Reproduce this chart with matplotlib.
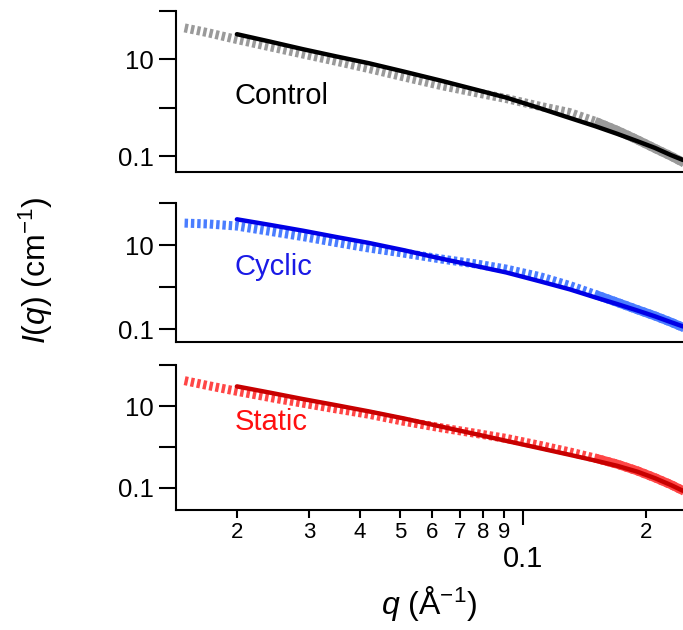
import numpy as np
import matplotlib
matplotlib.use("Agg")
import matplotlib.pyplot as plt

plt.rcParams['font.family'] = ['Liberation Sans', 'DejaVu Sans']
plt.rcParams['mathtext.fontset'] = 'custom'
plt.rcParams['mathtext.rm'] = 'Liberation Sans'
plt.rcParams['mathtext.it'] = 'Liberation Sans:italic'

# scattering data, q in 1/A, I as log10 of cm^-1
q_data = [0.0149, 0.017, 0.020, 0.025, 0.029, 0.035, 0.042, 0.051, 0.063, 0.077,
          0.091, 0.110, 0.130, 0.150, 0.170, 0.190, 0.210, 0.230, 0.250]
log_control = [1.65, 1.55, 1.41, 1.23, 1.11, 0.96, 0.81, 0.64, 0.46, 0.31,
               0.19, 0.03, -0.10, -0.28, -0.47, -0.66, -0.84, -1.00, -1.16]
log_cyclic = [1.52, 1.50, 1.45, 1.30, 1.20, 1.06, 0.93, 0.81, 0.67, 0.55,
              0.43, 0.25, 0.04, -0.17, -0.36, -0.53, -0.68, -0.83, -0.98]
log_static = [1.62, 1.50, 1.36, 1.18, 1.07, 0.93, 0.80, 0.63, 0.47, 0.33,
              0.21, 0.04, -0.12, -0.27, -0.42, -0.58, -0.75, -0.92, -1.10]

# model fits
q_fit = [0.020, 0.024, 0.029, 0.035, 0.042, 0.051, 0.063, 0.077, 0.091,
         0.110, 0.130, 0.150, 0.170, 0.190, 0.210, 0.230, 0.246]
fit_control = [1.52, 1.37, 1.21, 1.06, 0.92, 0.75, 0.56, 0.37, 0.21,
               -0.01, -0.21, -0.38, -0.54, -0.69, -0.83, -0.98, -1.08]
fit_cyclic = [1.61, 1.48, 1.34, 1.19, 1.05, 0.88, 0.68, 0.50, 0.35,
              0.14, -0.05, -0.24, -0.40, -0.55, -0.69, -0.83, -0.93]
fit_static = [1.48, 1.33, 1.17, 1.02, 0.87, 0.70, 0.50, 0.31, 0.15,
              -0.03, -0.19, -0.33, -0.46, -0.60, -0.76, -0.93, -1.07]

labels = ['Control', 'Cyclic', 'Static']

panels = [
    dict(data=log_control, fit=fit_control, dcol='#9a9a9a', fcol='#000000',
         tcol='#000000', ylim=(0.047, 100), solid=0.135,
         rect=[0.2577, 0.727, 0.7423, 0.2556], ty=0.47),
    dict(data=log_cyclic, fit=fit_cyclic, dcol='#4a7dff', fcol='#0000e6',
         tcol='#1a1ae6', ylim=(0.05, 100), solid=0.15,
         rect=[0.2577, 0.457, 0.7423, 0.221], ty=0.54),
    dict(data=log_static, fit=fit_static, dcol='#ff4646', fcol='#c80000',
         tcol='#ff1010', ylim=(0.029, 41), solid=0.15,
         rect=[0.2577, 0.1905, 0.7423, 0.230], ty=0.61),
]

fig = plt.figure(figsize=(6.83, 6.30), dpi=100)
qd = np.array(q_data)
qf = np.array(q_fit)

for i, p in enumerate(panels):
    ax = fig.add_axes(p['rect'])
    Id = 10 ** np.array(p['data'])
    If = 10 ** np.array(p['fit'])
    # data drawn as closely packed markers -> thick broken line
    ax.plot(qd, Id, color=p['dcol'], lw=6.5, dashes=(0.38, 0.32),
            dash_capstyle='butt', zorder=1)
    m = qd >= p['solid']
    ax.plot(qd[m], Id[m], color=p['dcol'], lw=6.5, solid_capstyle='butt', zorder=1)
    ax.plot(qf, If, color=p['fcol'], lw=3.2, solid_capstyle='round', zorder=2)

    ax.set_xscale('log')
    ax.set_yscale('log')
    ax.set_xlim(0.0142, 0.246)
    ax.set_ylim(*p['ylim'])
    for s in ['top', 'right']:
        ax.spines[s].set_visible(False)
    for s in ['left', 'bottom']:
        ax.spines[s].set_linewidth(1.5)

    ax.set_yticks([0.1, 1, 10, 100])
    ax.set_yticklabels(['0.1', '', '10', ''])
    ax.yaxis.set_minor_locator(matplotlib.ticker.NullLocator())
    ax.tick_params(axis='y', which='major', direction='out', length=12,
                   width=1.5, labelsize=18.5, pad=4)

    ax.text(0.116, p['ty'], labels[i], transform=ax.transAxes, fontsize=21,
            color=p['tcol'], va='center', ha='left')

    if i < 2:
        ax.xaxis.set_major_locator(matplotlib.ticker.NullLocator())
        ax.xaxis.set_minor_locator(matplotlib.ticker.NullLocator())
    else:
        minors = [0.02, 0.03, 0.04, 0.05, 0.06, 0.07, 0.08, 0.09, 0.2]
        ax.set_xticks([0.1])
        ax.set_xticklabels(['0.1'])
        ax.set_xticks(minors, minor=True)
        ax.set_xticklabels(['2', '3', '4', '5', '6', '7', '8', '9', '2'], minor=True)
        ax.tick_params(axis='x', which='major', direction='out', length=11,
                       width=1.5, labelsize=21, pad=14)
        ax.tick_params(axis='x', which='minor', direction='out', length=6,
                       width=1.5, labelsize=16, pad=3)
        ax.set_xlabel(r'$q$ ($\mathregular{\AA^{-1}}$)', fontsize=23, labelpad=8)

fig.text(0.052, 1 - 270 / 630, r'$I$($q$) (cm$^{\mathregular{-1}}$)', rotation=90,
         fontsize=23, va='center', ha='center')

fig.savefig('out.png', dpi=100)
